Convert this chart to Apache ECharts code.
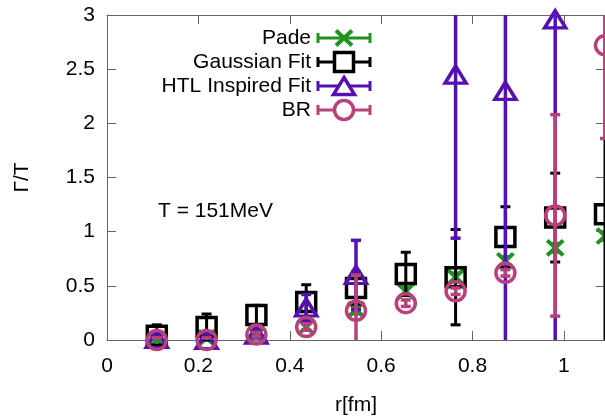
<!DOCTYPE html>
<html><head><meta charset="utf-8">
<script src="https://cdn.jsdelivr.net/npm/echarts@6/dist/echarts.min.js"></script>
<style>html,body{margin:0;padding:0;background:#fff}#c{width:605px;height:417px}</style>
</head><body><div id="c"></div>
<script>
// r values (fm)
const rValues = [0.109, 0.218, 0.327, 0.436, 0.545, 0.654, 0.763, 0.872, 0.981, 1.09];
// Pade
const padeValues = [0.0, 0.02, 0.05, 0.12, 0.28, 0.45, 0.58, 0.73, 0.85, 0.96];
const padeErrors = [0.02, 0.02, 0.02, 0.03, 0.04, 0.04, 0.04, 0.04, 0.04, 0.04];
// Gaussian Fit
const gaussValues = [0.04, 0.12, 0.23, 0.35, 0.48, 0.61, 0.58, 0.95, 1.13, 1.16];
const gaussErrors = [0.1, 0.12, 0.09, 0.16, 0.15, 0.2, 0.44, 0.28, 0.41, 1.9];
// HTL Inspired Fit
const htlValues = [0.01, 0.0, 0.05, 0.3, 0.6, null, 2.45, 2.3, 2.96, null];
const htlErrors = [0.02, 0.02, 0.03, 0.12, 0.32, null, 1.51, 2.6, 3.1, null];
// BR
const brValues = [0.0, 0.0, 0.05, 0.12, 0.27, 0.34, 0.45, 0.62, 1.15, 2.72];
const brErrors = [0.02, 0.02, 0.02, 0.03, 0.33, 0.03, 0.03, 0.03, 0.93, 0.86];
// tick labels
const xTicks = [0, 0.2, 0.4, 0.6, 0.8, 1];
const yTicks = [0, 0.5, 1, 1.5, 2, 2.5, 3];

const C_PADE = '#1f921f', C_GAUSS = '#000000', C_HTL = '#5410b0', C_BR = '#b8407c';
const FONT = 'Liberation Sans, Arial, sans-serif';
const FS = 21;

function errorBars(name, values, errors, color, lw, z) {
  const data = [];
  rValues.forEach((r, i) => {
    if (values[i] == null) return;
    data.push([r, values[i] - errors[i], values[i] + errors[i]]);
  });
  return {
    type: 'custom', name: name + ' err', z: z, silent: true,
    xAxisIndex: 0, yAxisIndex: 0,
    encode: { x: 0, y: [1, 2] },
    renderItem(params, api) {
      const x = api.value(0), lo = api.value(1), hi = api.value(2);
      const pLo = api.coord([x, lo]), pHi = api.coord([x, hi]);
      const cs = params.coordSys;
      const top = cs.y, bottom = cs.y + cs.height;
      const y1 = Math.max(top, Math.min(bottom, pHi[1]));
      const y2 = Math.max(top, Math.min(bottom, pLo[1]));
      const st = { stroke: color, lineWidth: lw };
      const ch = [{ type: 'line', shape: { x1: pLo[0], y1: y1, x2: pLo[0], y2: y2 }, style: st }];
      const cap = 5;
      [pHi[1], pLo[1]].forEach(py => {
        if (py >= top - 0.5 && py <= bottom + 0.5) {
          ch.push({ type: 'line', shape: { x1: pLo[0] - cap, y1: py, x2: pLo[0] + cap, y2: py }, style: st });
        }
      });
      return { type: 'group', children: ch };
    },
    data: data
  };
}

function points(name, values, color, symbol, size, bw, z) {
  const data = [];
  rValues.forEach((r, i) => { if (values[i] != null) data.push([r, values[i]]); });
  return {
    type: 'scatter', name: name, z: z, clip: false, silent: true,
    symbol: symbol, symbolSize: size,
    itemStyle: { color: 'rgba(0,0,0,0)', borderColor: color, borderWidth: bw, opacity: 1 },
    data: data
  };
}

const XPATH = 'path://M0,0L10,10M10,0L0,10';

const series = [
  errorBars('Pade', padeValues, padeErrors, C_PADE, 3, 2),
  points('Pade', padeValues, C_PADE, XPATH, [16, 15], 4, 3),
  errorBars('Gaussian Fit', gaussValues, gaussErrors, C_GAUSS, 3, 4),
  points('Gaussian Fit', gaussValues, C_GAUSS, 'rect', [19, 19], 3.5, 5),
  errorBars('HTL Inspired Fit', htlValues, htlErrors, C_HTL, 3.5, 6),
  points('HTL Inspired Fit', htlValues, C_HTL, 'triangle', [21, 17], 3.5, 7),
  errorBars('BR', brValues, brErrors, C_BR, 3.5, 8),
  points('BR', brValues, C_BR, 'circle', [19, 19], 3.5, 9)
];

// legend drawn as graphic
const legendItems = [
  { name: 'Pade', color: C_PADE, shape: 'x' },
  { name: 'Gaussian Fit', color: C_GAUSS, shape: 'rect' },
  { name: 'HTL Inspired Fit', color: C_HTL, shape: 'tri' },
  { name: 'BR', color: C_BR, shape: 'circle' }
];
const graphics = [];
legendItems.forEach((it, i) => {
  const y = 38 + 24 * i;
  const tx = 311, l1 = 318, l2 = 370, mx = 344;
  const st = { stroke: it.color, lineWidth: 3, fill: null };
  graphics.push({ type: 'text', x: tx, y: y, style: { text: it.name, font: FS + 'px ' + FONT, fill: '#000', align: 'right', verticalAlign: 'middle' } });
  graphics.push({ type: 'line', shape: { x1: l1, y1: y, x2: l2, y2: y }, style: st });
  graphics.push({ type: 'line', shape: { x1: l1, y1: y - 5, x2: l1, y2: y + 5 }, style: st });
  graphics.push({ type: 'line', shape: { x1: l2, y1: y - 5, x2: l2, y2: y + 5 }, style: st });
  if (it.shape === 'x') {
    graphics.push({ type: 'polyline', shape: { points: [[mx - 8, y - 7.5], [mx + 8, y + 7.5]] }, style: { stroke: it.color, lineWidth: 4 } });
    graphics.push({ type: 'polyline', shape: { points: [[mx + 8, y - 7.5], [mx - 8, y + 7.5]] }, style: { stroke: it.color, lineWidth: 4 } });
  } else if (it.shape === 'rect') {
    graphics.push({ type: 'rect', shape: { x: mx - 9.5, y: y - 9.5, width: 19, height: 19 }, style: { stroke: it.color, lineWidth: 3.5, fill: '#fff' } });
  } else if (it.shape === 'tri') {
    graphics.push({ type: 'polygon', shape: { points: [[mx, y - 8.5], [mx + 10.5, y + 8.5], [mx - 10.5, y + 8.5]] }, style: { stroke: it.color, lineWidth: 3.5, fill: '#fff' } });
  } else {
    graphics.push({ type: 'circle', shape: { cx: mx, cy: y, r: 9.5 }, style: { stroke: it.color, lineWidth: 3.5, fill: '#fff' } });
  }
});
graphics.push({ type: 'text', x: 158, y: 211, style: { text: 'T = 151MeV', font: FS + 'px ' + FONT, fill: '#000', align: 'left', verticalAlign: 'middle' } });

const axisLineStyle = { color: '#666', width: 1 };
const tickStyle = { color: '#666', width: 1 };

const option = {
  animation: false,
  backgroundColor: '#fff',
  grid: { left: 107, right: 0, top: 15, bottom: 77, containLabel: false, outerBoundsMode: 'none' },
  xAxis: [
    {
      type: 'value', min: 0, max: 1.09, position: 'bottom',
      name: 'r[fm]', nameLocation: 'middle', nameGap: 55,
      nameTextStyle: { fontFamily: FONT, fontSize: FS, color: '#000' },
      axisLine: { show: true, onZero: false, lineStyle: axisLineStyle },
      axisTick: { show: true, inside: true, length: 9, lineStyle: tickStyle, customValues: xTicks },
      axisLabel: { show: true, margin: 16, fontFamily: FONT, fontSize: FS, color: '#000', customValues: xTicks },
      splitLine: { show: false }
    },
    {
      type: 'value', min: 0, max: 1.09, position: 'top',
      axisLine: { show: true, onZero: false, lineStyle: axisLineStyle },
      axisTick: { show: true, inside: true, length: 9, lineStyle: tickStyle, customValues: xTicks },
      axisLabel: { show: false },
      splitLine: { show: false }
    }
  ],
  yAxis: [
    {
      type: 'value', min: 0, max: 3, interval: 0.5, position: 'left',
      name: 'Γ/T', nameLocation: 'middle', nameGap: 74,
      nameTextStyle: { fontFamily: FONT, fontSize: FS, color: '#000' },
      axisLine: { show: true, onZero: false, lineStyle: axisLineStyle },
      axisTick: { show: true, inside: true, length: 9, lineStyle: tickStyle, customValues: yTicks },
      axisLabel: { show: true, margin: 12, fontFamily: FONT, fontSize: FS, color: '#000', customValues: yTicks },
      splitLine: { show: false }
    },
    {
      type: 'value', min: 0, max: 3, interval: 0.5, position: 'right',
      axisLine: { show: true, onZero: false, lineStyle: axisLineStyle },
      axisTick: { show: true, inside: true, length: 9, lineStyle: tickStyle, customValues: yTicks },
      axisLabel: { show: false },
      splitLine: { show: false }
    }
  ],
  graphic: graphics,
  series: series
};

const chart = echarts.init(document.getElementById('c'), null, { renderer: 'canvas' });
chart.setOption(option);
</script>
</body></html>
